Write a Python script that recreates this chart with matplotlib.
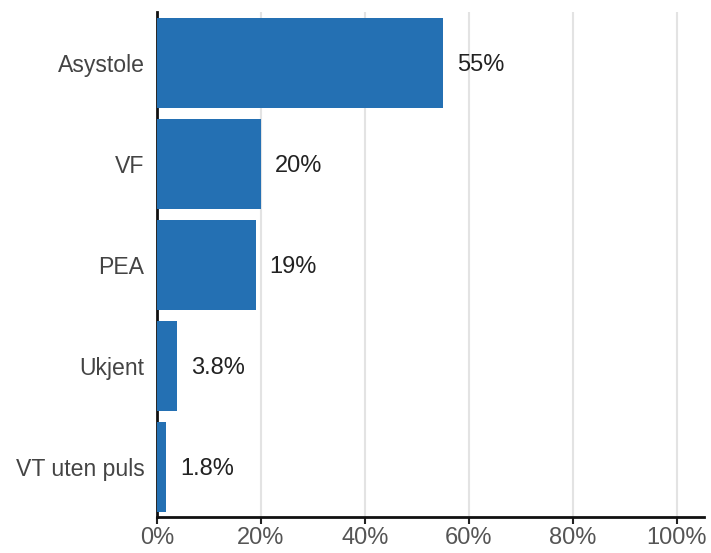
import matplotlib
matplotlib.use("Agg")
import matplotlib.pyplot as plt
from matplotlib.ticker import FuncFormatter

categories = ["Asystole", "VF", "PEA", "Ukjent", "VT uten puls"]
values = [55, 20, 19, 3.8, 1.8]
value_labels = ["55%", "20%", "19%", "3.8%", "1.8%"]
x_ticks = [0, 20, 40, 60, 80, 100]

plt.rcParams["font.family"] = ["Liberation Sans", "DejaVu Sans"]

fig = plt.figure(figsize=(7.11, 5.53), dpi=100)
ax = fig.add_axes([0.2208, 0.065, 0.7693, 0.913])

bar_color = "#2470b3"
y = list(range(len(categories)))
ax.barh(y, values, height=0.89, color=bar_color, zorder=3)

for yi, v, lab in zip(y, values, value_labels):
    ax.annotate(lab, xy=(v, yi), xytext=(10, -2), textcoords="offset points",
                ha="left", va="center", fontsize=17, color="#222222")

ax.set_ylim(len(categories) - 0.5, -0.5)
ax.set_xlim(0, 105.2)
ax.set_yticks(y)
ax.set_yticklabels(categories, fontsize=16.6, color="#444444")
ax.set_xticks(x_ticks)
ax.xaxis.set_major_formatter(FuncFormatter(lambda v, p: f"{v:.0f}%"))
ax.tick_params(axis="x", labelsize=17, labelcolor="#555555", length=5,
               width=1.5, color="#222222", pad=2)
ax.tick_params(axis="y", length=0, pad=9)

ax.grid(axis="x", color="#e3e3e3", linewidth=1.5, zorder=0)
ax.set_axisbelow(True)

for side in ("top", "right"):
    ax.spines[side].set_visible(False)
for side in ("left", "bottom"):
    ax.spines[side].set_color("#111111")
    ax.spines[side].set_linewidth(2)

fig.savefig("out.png", dpi=100, facecolor="white")
